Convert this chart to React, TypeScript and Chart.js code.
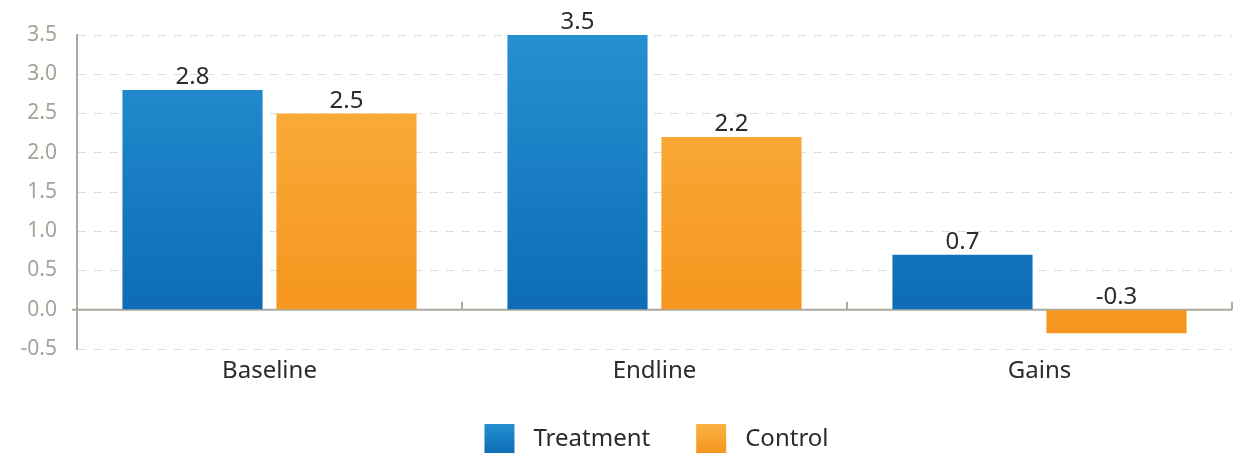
import React, { useEffect, useRef } from "react";
import { Chart, registerables } from "chart.js";

Chart.register(...registerables);

const categories = ["Baseline", "Endline", "Gains"];
const treatmentValues = [2.8, 3.5, 0.7];
const controlValues = [2.5, 2.2, -0.3];
const seriesNames = ["Treatment", "Control"];
const yMin = -0.5;
const yMax = 3.5;
const yStep = 0.5;

const FONT = "'Noto Sans', 'Open Sans', sans-serif";
const BLUE = ["#2590d1", "#0d6cb5"];
const ORANGE = ["#fbb142", "#f5961e"];

function makeGradient(chart: any, top: string, bottom: string) {
  const { ctx, chartArea, scales } = chart;
  if (!chartArea) return bottom;
  const y0 = scales.y.getPixelForValue(0);
  const g = ctx.createLinearGradient(0, chartArea.top, 0, y0);
  g.addColorStop(0, top);
  g.addColorStop(1, bottom);
  return g;
}

const overlayPlugin = {
  id: "overlay",
  beforeDatasetsDraw(chart: any) {
    const { ctx, chartArea, scales } = chart;
    const y0 = scales.y.getPixelForValue(0);
    ctx.save();
    ctx.strokeStyle = "#aaa99d";
    ctx.lineWidth = 2;
    ctx.beginPath();
    ctx.moveTo(chartArea.left - 5, y0);
    ctx.lineTo(chartArea.right, y0);
    ctx.stroke();
    const n = chart.data.labels.length;
    for (let i = 1; i <= n; i++) {
      const x = Math.round(chartArea.left + ((chartArea.right - chartArea.left) * i) / n);
      ctx.beginPath();
      ctx.moveTo(x, y0);
      ctx.lineTo(x, y0 - 8);
      ctx.stroke();
    }
    ctx.restore();
  },
  afterDatasetsDraw(chart: any) {
    const { ctx, scales } = chart;
    const y0 = scales.y.getPixelForValue(0);
    ctx.save();
    ctx.font = `24px ${FONT}`;
    ctx.fillStyle = "#2b2b2b";
    ctx.textAlign = "center";
    ctx.textBaseline = "alphabetic";
    chart.data.datasets.forEach((ds: any, di: number) => {
      const meta = chart.getDatasetMeta(di);
      meta.data.forEach((bar: any, i: number) => {
        const v = ds.data[i];
        const top = Math.min(bar.y, y0);
        ctx.fillText(v.toFixed(1), bar.x, top - 6);
      });
    });
    ctx.restore();
  },
  afterDraw(chart: any) {
    const { ctx, chartArea } = chart;
    ctx.save();
    ctx.font = `24px ${FONT}`;
    ctx.textBaseline = "middle";
    ctx.textAlign = "left";
    const box = 30;
    const gap = 19;
    const itemGap = 46;
    const widths = seriesNames.map((s) => ctx.measureText(s).width);
    const total = widths.reduce((a, w) => a + box + gap + w, 0) + itemGap * (seriesNames.length - 1);
    let x = (chartArea.left + chartArea.right) / 2 - total / 2 + 2;
    const top = 424;
    const cols = [BLUE, ORANGE];
    seriesNames.forEach((name, i) => {
      const g = ctx.createLinearGradient(0, top, 0, top + 29);
      g.addColorStop(0, cols[i][0]);
      g.addColorStop(1, cols[i][1]);
      ctx.fillStyle = g;
      ctx.fillRect(x, top, box, 29);
      ctx.fillStyle = "#2b2b2b";
      ctx.fillText(name, x + box + gap, top + 15);
      x += box + gap + widths[i] + itemGap;
    });
    ctx.restore();
  },
};

export default function App() {
  const ref = useRef<HTMLCanvasElement | null>(null);
  useEffect(() => {
    if (!ref.current) return;
    const chart = new Chart(ref.current, {
      type: "bar",
      data: {
        labels: categories,
        datasets: [
          {
            label: seriesNames[0],
            data: treatmentValues,
            backgroundColor: (c: any) => makeGradient(c.chart, BLUE[0], BLUE[1]),
            borderWidth: 0,
          },
          {
            label: seriesNames[1],
            data: controlValues,
            backgroundColor: (c: any) => makeGradient(c.chart, ORANGE[0], ORANGE[1]),
            borderWidth: 0,
          },
        ],
      },
      options: {
        animation: false,
        responsive: true,
        maintainAspectRatio: false,
        layout: { padding: { top: 35, right: 6, bottom: 65, left: 0 } },
        datasets: {
          bar: { categoryPercentage: 0.8, barPercentage: 0.91 },
        } as any,
        plugins: {
          tooltip: { enabled: false },
          legend: { display: false },
        },
        scales: {
          x: {
            grid: { display: false, drawTicks: false },
            border: { display: false },
            afterFit: (s: any) => {
              s.height = 40;
            },
            ticks: {
              font: { family: FONT, size: 24 },
              color: "#2b2b2b",
              padding: 8,
            },
          },
          y: {
            min: yMin,
            max: yMax,
            afterFit: (s: any) => {
              s.width = 77;
            },
            ticks: {
              stepSize: yStep,
              font: { family: FONT, size: 21 },
              color: "#a3a396",
              padding: 20,
              callback: (v: any) => Number(v).toFixed(1),
            },
            grid: {
              drawTicks: false,
              color: (c: any) => (c.tick && c.tick.value === 0 ? "rgba(0,0,0,0)" : "#dedede"),
              lineWidth: 1,
            },
            border: { display: true, color: "#aaa99d", width: 2, dash: [8, 8] },
          },
        },
      },
      plugins: [overlayPlugin],
    });
    return () => chart.destroy();
  }, []);
  return (
    <div style={{ position: "fixed", left: 0, top: 0, width: 1238, height: 454 }}>
      <canvas ref={ref} />
    </div>
  );
}
